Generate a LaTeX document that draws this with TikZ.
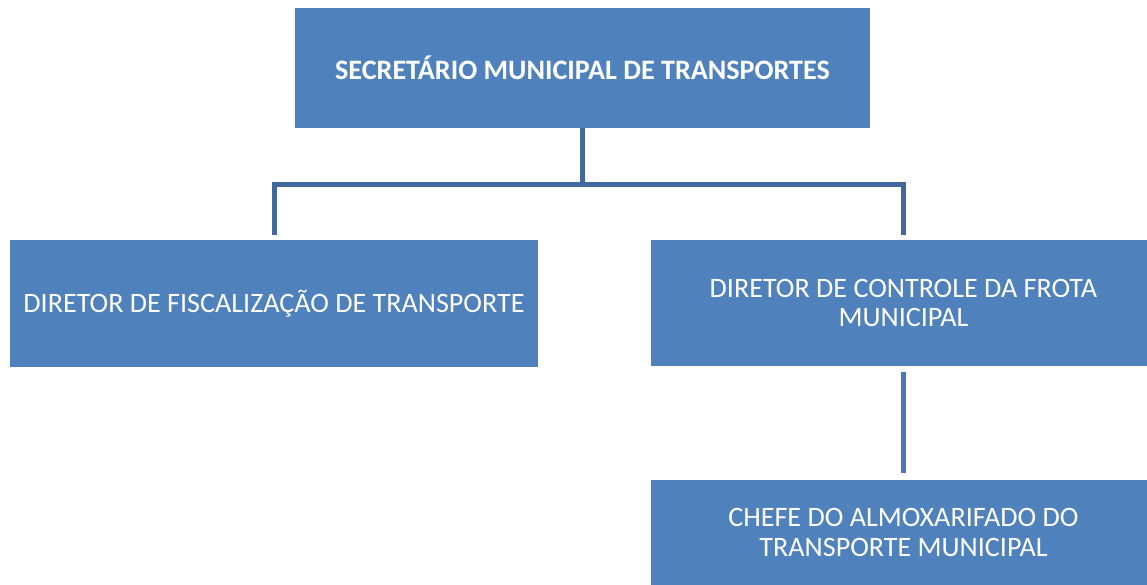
\documentclass[tikz,border=0pt]{standalone}
\usepackage{fontspec}
\setmainfont{Carlito}
\usepackage{xcolor}
\usepackage{tikz}
\usetikzlibrary{positioning,calc}
\definecolor{azulcaixa}{HTML}{4F81BD}
\definecolor{azullinha}{HTML}{41689A}
\definecolor{azullinhab}{HTML}{4A78B3}
\begin{document}
\begin{tikzpicture}[x=0.02cm,y=0.02cm,
				caixa/.style={
					fill=azulcaixa, text=white, align=center,
					inner sep=0pt,
					font=\fontsize{16}{16.8}\selectfont,
				},
				ligacao/.style={draw=azullinha, line width=0.1cm},
				]
				\useasboundingbox (0,0) rectangle (1147,-585);
				\node[caixa, minimum width=11.5cm, minimum height=2.4cm, font=\fontsize{16}{16.8}\selectfont\bfseries] (sec) at (582.5,-68) {SECRETÁRIO MUNICIPAL DE TRANSPORTES};
				\node[caixa, minimum width=10.56cm, minimum height=2.54cm] (fisc) at (274,-303.5) {DIRETOR DE FISCALIZAÇÃO DE TRANSPORTE};
				\node[caixa, minimum width=10.1cm, minimum height=2.52cm] (frota) at (903.5,-303) {DIRETOR DE CONTROLE DA FROTA\\MUNICIPAL};
				\node[caixa, minimum width=10.1cm, minimum height=2.12cm, below=2.26cm of frota] (chefe) {CHEFE DO ALMOXARIFADO DO\\TRANSPORTE MUNICIPAL};
				
				\draw[ligacao] (sec.south) -- ++(0,-56.5) coordinate (hub);
				\draw[ligacao] ([yshift=0.1cm]fisc.north) |- (hub) -| ([yshift=0.1cm]frota.north);
				\draw[ligacao, draw=azullinhab] ([yshift=-0.12cm]frota.south) -- ([yshift=0.12cm]chefe.north);
			\end{tikzpicture}
\end{document}
